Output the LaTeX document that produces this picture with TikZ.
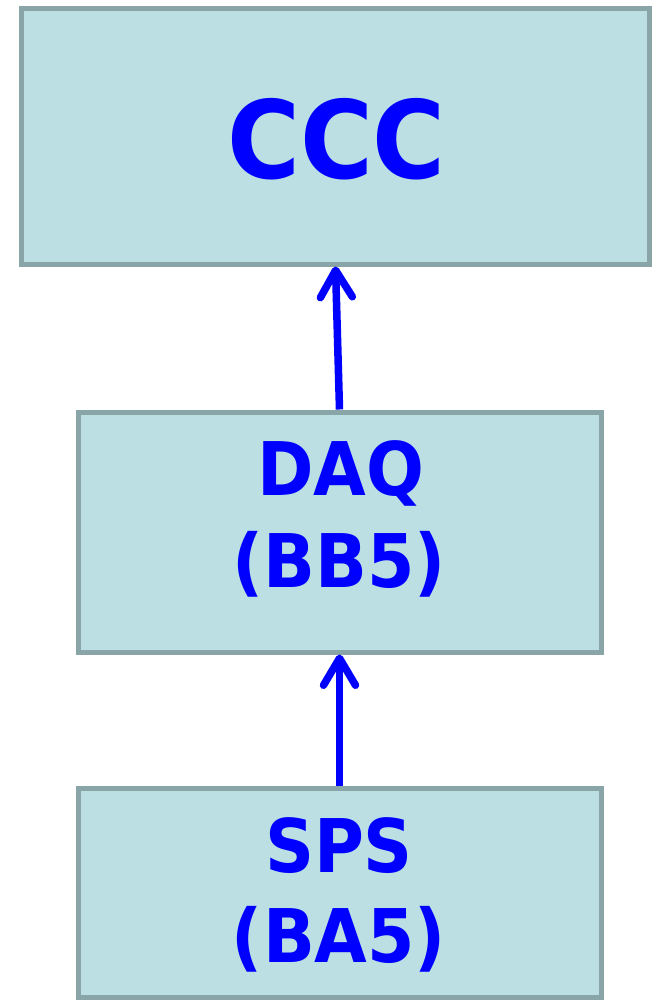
\documentclass[tikz,border=0pt]{standalone}
\usepackage{fontspec}
\setmainfont{DejaVu Sans}[FakeStretch=0.92]
\usetikzlibrary{arrows.meta}
\definecolor{boxfill}{HTML}{BBDFE3}
\definecolor{boxline}{HTML}{8AA5A8}
\definecolor{txtblue}{HTML}{0000FF}
\begin{document}
\begin{tikzpicture}[x=1pt,y=-1pt,
  box/.style={draw=boxline, fill=boxfill, line width=5pt, inner sep=0pt},
  big/.style={text=txtblue, inner sep=0pt, font=\bfseries\fontsize{108}{120}\selectfont},
  mid/.style={text=txtblue, inner sep=0pt, anchor=base, font=\bfseries\fontsize{74}{90}\selectfont},
  arr/.style={draw=txtblue, line width=7.5pt, -{Straight Barb[round,length=27pt,width=32pt,line width=7.5pt]}}]
\useasboundingbox (0,0) rectangle (652,1001);
\node[box, minimum width=628pt, minimum height=255.5pt] (ccc) at (335.5,136.25) {};
\node[box, minimum width=523pt, minimum height=240pt] (daq) at (339.5,532) {};
\node[box, minimum width=523pt, minimum height=209pt] (sps) at (339.5,892.5) {};
\node[big] (ccct) at (336.5,139) {CCC};
\node[mid] (daq1) at (341,495) {DAQ};
\node[mid] (daq2) at (339,587) {(BB5)};
\node[mid] (sps1) at (339,872) {SPS};
\node[mid] (sps2) at (339,962) {(BA5)};
\draw[arr] (daq.north) -- (ccc.south);
\draw[arr] (sps.north) -- (daq.south);
\end{tikzpicture}
\end{document}
